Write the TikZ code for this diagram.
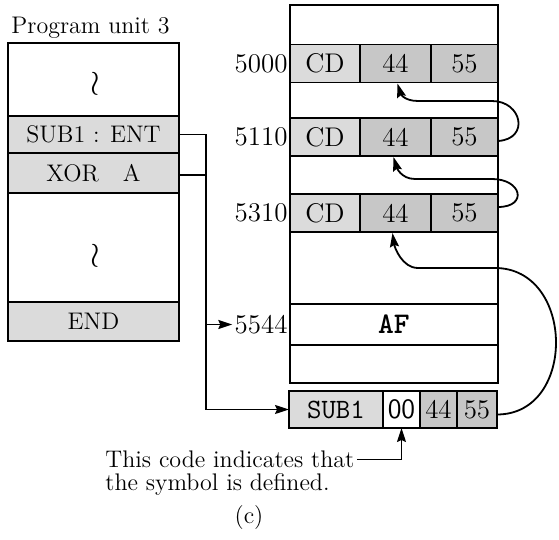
\documentclass[tikz,border=0pt]{standalone}
\usepackage{amsmath}
\usepackage{tikz}
\usetikzlibrary{positioning, arrows.meta}
\definecolor{cellLight}{gray}{0.86}
\definecolor{cellDark}{gray}{0.78}

\begin{document}
\begin{tikzpicture}[x=0.5pt, y=-0.5pt, font=\fontsize{12}{12}\selectfont,
    cell/.style={draw, line width=0.7pt, rectangle, inner sep=0pt, outer sep=0pt, minimum height=19pt},
    memtext/.style={font=\fontsize{13.5}{13.5}\selectfont},
    frame/.style={draw, line width=1.3pt, rectangle, inner sep=0pt, outer sep=0pt},
    wire/.style={line width=0.7pt},
    wirearrow/.style={-{Stealth[length=7pt,width=4.5pt,inset=1pt]}},
    link/.style={line width=0.9pt, -{Stealth[length=7pt,width=4.5pt,inset=1pt]}}]
    \useasboundingbox (0,0) rectangle (559,540);
    % program unit (left)
    \node[anchor=base west, inner sep=0pt] (title) at (11,34) {Program unit 3};
    \node[frame, minimum width=85.5pt, minimum height=149pt] (unit) at (93.5,192) {};
    \node[cell, fill=cellLight, minimum width=85.5pt, minimum height=18.5pt] (ent) at (93.5,134.5) {SUB1 : ENT};
    \node[cell, fill=cellLight, minimum width=85.5pt, minimum height=20pt, below=0pt of ent] (xor) {XOR\quad A};
    \node[cell, fill=cellLight, minimum width=85.5pt, minimum height=19.5pt] (endrow) at (93.5,321.5) {END};
    \draw[frame] (unit.north west) rectangle (unit.south east);
    \node (gapA) at (95,84) {\fontsize{17}{17}\selectfont$\wr$};
    \node (gapB) at (95,256) {\fontsize{17}{17}\selectfont$\wr$};
    % memory (right)
    \node[frame, minimum width=104pt, minimum height=189pt] (mem) at (394,194) {};
    \node[cell, memtext, fill=cellLight, minimum width=35pt] (cdA) at (325,63.5) {CD};
    \node[cell, memtext, fill=cellDark, minimum width=35.5pt, right=0pt of cdA] (ffA) {44};
    \node[cell, memtext, fill=cellDark, minimum width=33.5pt, right=0pt of ffA] (fiA) {55};
    \node[cell, memtext, fill=cellLight, minimum width=35pt] (cdB) at (325,137) {CD};
    \node[cell, memtext, fill=cellDark, minimum width=35.5pt, right=0pt of cdB] (ffB) {44};
    \node[cell, memtext, fill=cellDark, minimum width=33.5pt, right=0pt of ffB] (fiB) {55};
    \node[cell, memtext, fill=cellLight, minimum width=35pt] (cdC) at (325,213) {CD};
    \node[cell, memtext, fill=cellDark, minimum width=35.5pt, right=0pt of cdC] (ffC) {44};
    \node[cell, memtext, fill=cellDark, minimum width=33.5pt, right=0pt of ffC] (fiC) {55};
    \node[cell, minimum width=104pt, minimum height=20.5pt] (af) at (394,324.5) {\fontsize{15}{15}\ttfamily\bfseries AF};
    \draw[frame] (mem.north west) rectangle (mem.south east);
    \node[memtext, anchor=east, inner sep=1pt] (adrA) at (cdA.west) {5000};
    \node[memtext, anchor=east, inner sep=1pt] (adrB) at (cdB.west) {5110};
    \node[memtext, anchor=east, inner sep=1pt] (adrC) at (cdC.west) {5310};
    \node[memtext, anchor=east, inner sep=1pt] (adrD) at (mem.west |- af) {5544};
    % symbol table entry
    \node[cell, fill=cellLight, minimum width=47pt, minimum height=18.5pt] (symName) at (336,409.5) {\fontsize{14}{14}\ttfamily SUB1};
    \node[cell, minimum width=18.5pt, minimum height=18.5pt, right=0pt of symName] (symFlag) {\fontsize{14}{14}\sffamily 00};
    \node[cell, memtext, fill=cellDark, minimum width=18.5pt, minimum height=18.5pt, right=0pt of symFlag] (symHi) {44};
    \node[cell, memtext, fill=cellDark, minimum width=20pt, minimum height=18.5pt, right=0pt of symHi] (symLo) {55};
    \draw[frame] (symName.north west) rectangle (symLo.south east);
    % bus from the entry point
    \coordinate (bus) at (206,0);
    \coordinate (xorTap) at ([shift={(0,2)}]xor.east);
    \draw[wire, wirearrow] (ent.east) -- (bus |- ent.east) |- (symName.west);
    \draw[wire] (xorTap) -- (bus |- xorTap);
    \draw[wire, wirearrow] (bus |- adrD) -- (adrD.west);
    % chain of references
    \draw[link] ([shift={(0,4)}]fiB.east) .. controls +(32,-2) and +(30,0) .. (492,101) -- (418,101) .. controls +(-14,0) and +(3,10) .. ([shift={(2,1)}]ffA.south);
    \draw[link] ([shift={(0,-6)}]fiC.east) .. controls +(30,0) and +(30,0) .. (492,179) -- (415,179) .. controls +(-14,0) and +(3,10) .. ([shift={(-2,1)}]ffB.south);
    \draw[link] ([shift={(0,5)}]symLo.east) .. controls +(80,0) and +(80,0) .. (495,268) -- (418,268) .. controls +(-16,0) and +(2,14) .. ([shift={(-3,1)}]ffC.south);
    % note
    \node[anchor=base west, inner sep=0pt] (noteA) at (105,468) {This code indicates that};
    \node[anchor=base west, inner sep=0pt] (noteB) at (105,491) {the symbol is defined.};
    \draw[wire, wirearrow] ([xshift=1pt]noteA.east) -| (symFlag.south);
    \node (caption) at (249,518) {(c)};
\end{tikzpicture}
\end{document}
